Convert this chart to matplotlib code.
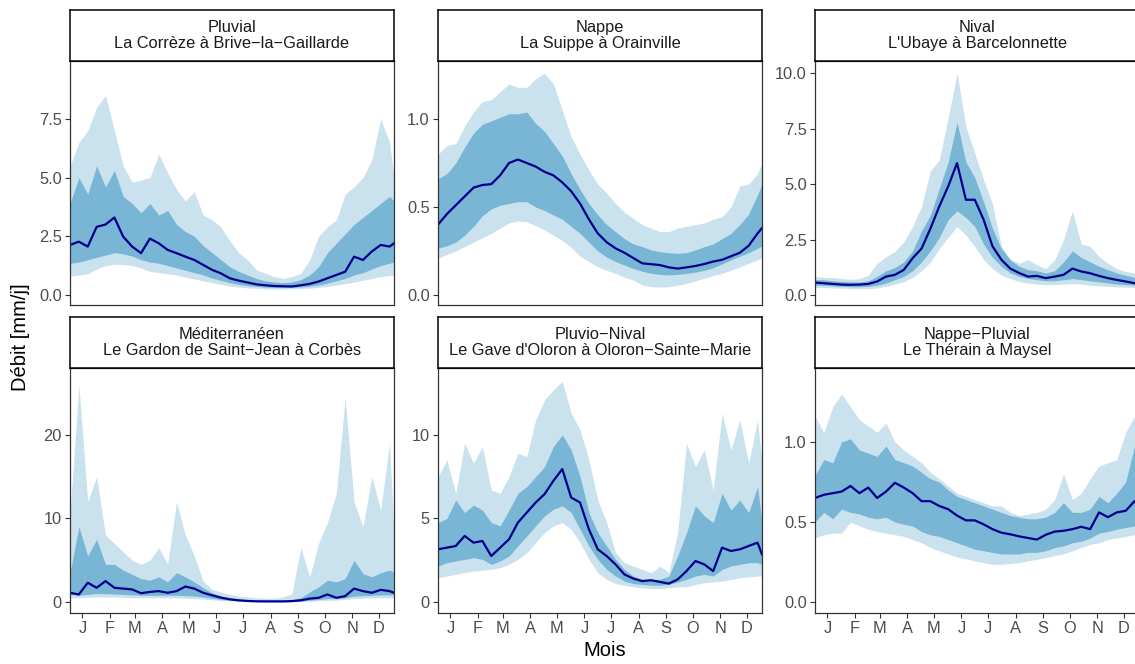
import numpy as np
import matplotlib
matplotlib.use("Agg")
import matplotlib.pyplot as plt

plt.rcParams["font.family"] = ["Liberation Sans", "DejaVu Sans"]

# day of year (every 10 days + last day)
days = [0, 10, 20, 30, 40, 50, 60, 70, 80, 90,
        100, 110, 120, 130, 140, 150, 160, 170, 180, 190,
        200, 210, 220, 230, 240, 250, 260, 270, 280, 290,
        300, 310, 320, 330, 340, 350, 360, 365]

month_ticks = [14, 45, 73, 104, 134, 165, 195, 226, 257, 287, 318, 348]
month_labels = ["J", "F", "M", "A", "M", "J", "J", "A", "S", "O", "N", "D"]

titles = ["Pluvial\nLa Corrèze à Brive\u2212la\u2212Gaillarde",
          "Nappe\nLa Suippe à Orainville",
          "Nival\nL'Ubaye à Barcelonnette",
          "Méditerranéen\nLe Gardon de Saint\u2212Jean à Corbès",
          "Pluvio\u2212Nival\nLe Gave d'Oloron à Oloron\u2212Sainte\u2212Marie",
          "Nappe\u2212Pluvial\nLe Thérain à Maysel"]

# Pluvial
pluvial_q05 = [0.8, 0.85, 0.9, 1.1, 1.25, 1.3, 1.3, 1.25, 1.15, 1.0, 0.95, 0.9, 0.85, 0.75, 0.68, 0.6, 0.52, 0.45, 0.38, 0.33,
               0.3, 0.28, 0.26, 0.25, 0.25, 0.26, 0.27, 0.29, 0.32, 0.36, 0.42, 0.48, 0.55, 0.62, 0.7, 0.78, 0.82, 0.85]
pluvial_q25 = [1.35, 1.4, 1.5, 1.6, 1.7, 1.8, 1.75, 1.65, 1.5, 1.4, 1.35, 1.25, 1.15, 1.05, 0.95, 0.85, 0.72, 0.62, 0.52, 0.45,
               0.4, 0.36, 0.33, 0.32, 0.31, 0.32, 0.34, 0.37, 0.42, 0.5, 0.6, 0.7, 0.85, 0.95, 1.1, 1.25, 1.35, 1.4]
pluvial_med = [2.13, 2.27, 2.06, 2.9, 3.0, 3.3, 2.48, 2.06, 1.78, 2.4, 2.2, 1.92, 1.78, 1.63, 1.49, 1.28, 1.07, 0.92, 0.71, 0.61,
               0.53, 0.45, 0.41, 0.38, 0.37, 0.36, 0.41, 0.47, 0.57, 0.71, 0.85, 0.99, 1.63, 1.49, 1.85, 2.13, 2.06, 2.2]
pluvial_q75 = [3.9, 5.0, 4.3, 5.5, 4.6, 5.3, 4.2, 3.9, 3.5, 3.9, 3.4, 3.6, 3.0, 2.7, 2.5, 2.1, 1.8, 1.5, 1.2, 1.0,
               0.85, 0.7, 0.6, 0.55, 0.52, 0.55, 0.65, 0.85, 1.2, 1.8, 2.2, 2.6, 3.0, 3.3, 3.6, 3.9, 4.2, 4.0]
pluvial_q95 = [5.5, 6.5, 7.0, 8.0, 8.5, 7.0, 5.5, 4.8, 4.9, 5.0, 6.0, 5.2, 4.5, 4.0, 4.4, 3.4, 3.2, 2.9, 2.3, 1.8,
               1.5, 1.07, 0.92, 0.78, 0.71, 0.78, 0.92, 1.5, 2.5, 2.9, 3.2, 4.3, 4.6, 5.0, 5.75, 7.5, 6.5, 5.0]

# Nappe
nappe_q05 = [0.21, 0.23, 0.25, 0.275, 0.3, 0.325, 0.35, 0.38, 0.41, 0.42, 0.415, 0.395, 0.37, 0.34, 0.31, 0.27, 0.22, 0.19, 0.16, 0.14,
             0.123, 0.1, 0.085, 0.057, 0.047, 0.045, 0.047, 0.055, 0.066, 0.08, 0.095, 0.11, 0.123, 0.14, 0.16, 0.18, 0.2, 0.21]
nappe_q25 = [0.265, 0.28, 0.30, 0.34, 0.39, 0.45, 0.49, 0.51, 0.52, 0.53, 0.53, 0.5, 0.48, 0.455, 0.43, 0.39, 0.35, 0.3, 0.25, 0.215,
             0.19, 0.17, 0.15, 0.135, 0.123, 0.117, 0.114, 0.117, 0.123, 0.13, 0.14, 0.155, 0.176, 0.2, 0.22, 0.24, 0.265, 0.28]
nappe_med = [0.40, 0.46, 0.51, 0.56, 0.61, 0.625, 0.63, 0.68, 0.75, 0.77, 0.75, 0.73, 0.70, 0.68, 0.64, 0.59, 0.52, 0.43, 0.35, 0.30,
             0.265, 0.24, 0.21, 0.18, 0.175, 0.17, 0.157, 0.15, 0.157, 0.165, 0.176, 0.19, 0.2, 0.22, 0.24, 0.28, 0.35, 0.38]
nappe_q75 = [0.66, 0.69, 0.75, 0.84, 0.92, 0.97, 0.99, 1.01, 1.03, 1.03, 1.04, 0.975, 0.93, 0.86, 0.79, 0.69, 0.6, 0.52, 0.455, 0.4,
             0.36, 0.32, 0.29, 0.275, 0.256, 0.246, 0.24, 0.237, 0.24, 0.256, 0.275, 0.29, 0.32, 0.35, 0.4, 0.46, 0.57, 0.63]
nappe_q95 = [0.8, 0.85, 0.86, 0.96, 1.04, 1.1, 1.11, 1.155, 1.2, 1.18, 1.18, 1.23, 1.26, 1.2, 1.05, 0.9, 0.8, 0.71, 0.63, 0.58,
             0.52, 0.47, 0.435, 0.40, 0.38, 0.36, 0.36, 0.38, 0.39, 0.40, 0.41, 0.43, 0.445, 0.5, 0.62, 0.63, 0.69, 0.75]

# Nival
nival_q05 = [0.35, 0.35, 0.33, 0.32, 0.3, 0.3, 0.3, 0.33, 0.4, 0.5, 0.6, 0.8, 1.1, 1.5, 2.1, 2.6, 3.1, 2.7, 2.2, 1.6,
             1.2, 0.9, 0.75, 0.62, 0.55, 0.5, 0.48, 0.48, 0.5, 0.52, 0.5, 0.45, 0.42, 0.4, 0.38, 0.36, 0.35, 0.35]
nival_q25 = [0.45, 0.45, 0.42, 0.4, 0.38, 0.38, 0.4, 0.45, 0.55, 0.7, 0.85, 1.1, 1.5, 2.0, 2.6, 3.4, 3.8, 3.5, 3.1, 2.3,
             1.7, 1.3, 1.0, 0.85, 0.75, 0.7, 0.65, 0.65, 0.7, 0.75, 0.7, 0.65, 0.6, 0.55, 0.5, 0.48, 0.46, 0.45]
nival_med = [0.57, 0.54, 0.51, 0.48, 0.47, 0.48, 0.51, 0.62, 0.84, 0.92, 1.14, 1.67, 2.1, 3.0, 4.0, 4.9, 5.95, 4.3, 4.3, 3.4,
             2.2, 1.6, 1.2, 1.0, 0.84, 0.87, 0.77, 0.84, 0.92, 1.2, 1.07, 0.99, 0.87, 0.77, 0.69, 0.62, 0.54, 0.54]
nival_q75 = [0.7, 0.7, 0.65, 0.62, 0.6, 0.6, 0.65, 0.85, 1.1, 1.25, 1.5, 2.0, 2.9, 3.6, 4.8, 6.0, 7.8, 6.0, 5.3, 4.2,
             3.0, 2.1, 1.6, 1.3, 1.15, 1.1, 1.0, 1.1, 1.5, 2.0, 1.7, 1.5, 1.3, 1.15, 1.0, 0.9, 0.8, 0.75]
nival_q95 = [0.85, 0.8, 0.8, 0.75, 0.72, 0.75, 0.9, 1.44, 1.74, 1.97, 2.4, 3.1, 4.0, 5.6, 6.1, 8.0, 10.0, 7.6, 6.4, 5.2,
             4.1, 2.2, 1.6, 1.44, 1.6, 1.37, 1.2, 1.6, 2.5, 3.8, 2.3, 2.2, 1.74, 1.44, 1.2, 1.07, 1.0, 0.95]

# Méditerranéen
medit_q05 = [0.5, 0.5, 0.55, 0.6, 0.6, 0.6, 0.55, 0.5, 0.5, 0.5, 0.5, 0.5, 0.5, 0.45, 0.4, 0.35, 0.25, 0.18, 0.12, 0.08,
             0.05, 0.03, 0.03, 0.03, 0.03, 0.04, 0.06, 0.1, 0.15, 0.2, 0.22, 0.3, 0.4, 0.45, 0.5, 0.5, 0.5, 0.5]
medit_q25 = [0.9, 0.8, 0.9, 1.0, 1.0, 0.95, 0.9, 0.85, 0.8, 0.8, 0.8, 0.8, 0.8, 0.75, 0.7, 0.6, 0.45, 0.3, 0.2, 0.12,
             0.08, 0.05, 0.05, 0.05, 0.05, 0.06, 0.1, 0.2, 0.3, 0.4, 0.4, 0.5, 0.7, 0.75, 0.8, 0.85, 0.85, 0.85]
medit_med = [1.1, 0.9, 2.3, 1.7, 2.5, 1.7, 1.6, 1.5, 1.05, 1.2, 1.3, 1.1, 1.3, 1.85, 1.6, 1.1, 0.8, 0.52, 0.32, 0.2,
             0.12, 0.08, 0.07, 0.07, 0.07, 0.1, 0.2, 0.4, 0.5, 0.9, 0.5, 0.7, 1.6, 1.3, 1.1, 1.45, 1.3, 1.1]
medit_q75 = [3.5, 9.0, 5.5, 7.5, 4.5, 4.5, 3.8, 3.3, 2.8, 2.6, 3.0, 2.4, 3.5, 3.0, 2.4, 1.7, 1.1, 0.7, 0.45, 0.3,
             0.2, 0.15, 0.12, 0.12, 0.15, 0.3, 0.5, 1.2, 1.8, 2.6, 2.4, 2.8, 5.0, 3.4, 3.0, 3.5, 3.8, 3.6]
medit_q95 = [10.5, 26.0, 12.0, 15.0, 8.0, 7.0, 6.0, 5.0, 4.5, 5.0, 6.5, 4.5, 12.0, 8.0, 5.5, 2.5, 1.5, 1.2, 0.9, 0.7,
             0.6, 0.5, 0.45, 0.45, 0.6, 1.0, 6.5, 3.0, 7.0, 9.5, 13.0, 24.5, 12.0, 9.0, 15.0, 11.0, 19.0, 8.0]

# Pluvio-Nival
pnival_q05 = [1.45, 1.55, 1.65, 1.75, 1.85, 1.9, 1.95, 2.05, 2.25, 2.55, 2.95, 3.55, 4.15, 4.55, 4.75, 4.35, 3.55, 2.55, 1.75, 1.35,
              1.1, 1.0, 0.9, 0.85, 0.8, 0.8, 0.85, 0.9, 0.92, 1.05, 1.15, 1.2, 1.25, 1.35, 1.45, 1.5, 1.55, 1.55]
pnival_q25 = [2.15, 2.35, 2.45, 2.55, 2.65, 2.55, 2.25, 2.45, 2.75, 3.35, 3.95, 4.55, 5.15, 5.55, 5.75, 5.35, 4.35, 3.35, 2.55, 1.95,
              1.55, 1.25, 1.1, 1.05, 1.0, 1.0, 1.05, 1.2, 1.35, 1.55, 1.65, 1.55, 1.95, 2.15, 2.25, 2.35, 2.35, 2.25]
pnival_med = [3.15, 3.25, 3.35, 3.95, 3.55, 3.65, 2.75, 3.25, 3.75, 4.75, 5.35, 5.95, 6.45, 7.25, 7.95, 6.25, 5.95, 4.35, 3.15, 2.75,
              2.25, 1.65, 1.4, 1.25, 1.3, 1.2, 1.1, 1.35, 1.85, 2.45, 2.25, 1.85, 3.25, 3.05, 3.15, 3.35, 3.55, 2.85]
pnival_q75 = [4.75, 5.0, 6.1, 5.35, 5.8, 5.5, 4.75, 4.55, 5.5, 6.5, 6.9, 7.5, 8.1, 9.3, 10.0, 9.1, 7.5, 5.35, 4.15, 3.35,
              2.55, 1.95, 1.55, 1.35, 1.35, 1.35, 1.55, 2.75, 4.15, 5.75, 5.15, 4.75, 6.5, 5.5, 6.1, 5.35, 6.9, 4.75]
pnival_q95 = [7.5, 8.5, 6.5, 9.5, 8.3, 9.3, 6.7, 6.5, 7.5, 8.9, 8.7, 10.9, 12.1, 12.7, 13.2, 11.3, 10.3, 8.5, 6.1, 4.75,
              2.95, 2.35, 2.15, 1.95, 1.75, 2.15, 1.75, 4.15, 9.5, 8.1, 9.1, 6.7, 11.3, 9.1, 10.9, 8.3, 10.9, 8.3]

# Nappe-Pluvial
npluv_q05 = [0.40, 0.42, 0.43, 0.43, 0.5, 0.475, 0.455, 0.44, 0.43, 0.42, 0.41, 0.39, 0.37, 0.34, 0.32, 0.30, 0.28, 0.27, 0.256, 0.246,
             0.235, 0.235, 0.24, 0.246, 0.256, 0.267, 0.277, 0.29, 0.30, 0.32, 0.34, 0.36, 0.37, 0.39, 0.40, 0.41, 0.42, 0.42]
npluv_q25 = [0.5, 0.56, 0.52, 0.58, 0.56, 0.55, 0.53, 0.52, 0.53, 0.5, 0.485, 0.475, 0.44, 0.42, 0.41, 0.39, 0.37, 0.35, 0.33, 0.32,
             0.31, 0.30, 0.30, 0.30, 0.31, 0.31, 0.32, 0.34, 0.35, 0.37, 0.38, 0.40, 0.43, 0.44, 0.455, 0.465, 0.475, 0.48]
npluv_med = [0.65, 0.67, 0.68, 0.69, 0.725, 0.68, 0.715, 0.65, 0.69, 0.745, 0.715, 0.68, 0.63, 0.63, 0.60, 0.58, 0.54, 0.51, 0.51, 0.485,
             0.455, 0.433, 0.423, 0.41, 0.40, 0.39, 0.42, 0.44, 0.445, 0.455, 0.47, 0.455, 0.56, 0.53, 0.56, 0.57, 0.63, 0.6]
npluv_q75 = [0.79, 0.89, 0.87, 1.0, 1.02, 0.95, 0.93, 0.91, 0.975, 0.89, 0.87, 0.85, 0.81, 0.77, 0.75, 0.7, 0.66, 0.64, 0.62, 0.6,
             0.58, 0.56, 0.54, 0.53, 0.52, 0.52, 0.53, 0.56, 0.62, 0.56, 0.56, 0.58, 0.66, 0.62, 0.68, 0.75, 0.975, 0.8]
npluv_q95 = [1.16, 1.06, 1.22, 1.3, 1.22, 1.14, 1.1, 1.06, 1.12, 1.0, 0.95, 0.91, 0.87, 0.81, 0.77, 0.725, 0.68, 0.66, 0.64, 0.62,
             0.6, 0.6, 0.56, 0.54, 0.55, 0.56, 0.58, 0.64, 0.8, 0.64, 0.68, 0.77, 0.85, 0.87, 0.89, 1.06, 1.16, 1.16]

panels = [
    (pluvial_q05, pluvial_q25, pluvial_med, pluvial_q75, pluvial_q95),
    (nappe_q05, nappe_q25, nappe_med, nappe_q75, nappe_q95),
    (nival_q05, nival_q25, nival_med, nival_q75, nival_q95),
    (medit_q05, medit_q25, medit_med, medit_q75, medit_q95),
    (pnival_q05, pnival_q25, pnival_med, pnival_q75, pnival_q95),
    (npluv_q05, npluv_q25, npluv_med, npluv_q75, npluv_q95),
]

yticks = [[0, 2.5, 5.0, 7.5], [0.0, 0.5, 1.0], [0.0, 2.5, 5.0, 7.5, 10.0],
          [0, 10, 20], [0, 5, 10], [0.0, 0.5, 1.0]]
ytick_fmt = ["{:.1f}", "{:.1f}", "{:.1f}", "{:.0f}", "{:.0f}", "{:.1f}"]
ylims = [(-0.43, 9.97), (-0.057, 1.33), (-0.44, 10.55),
         (-1.32, 28.0), (-0.66, 14.0), (-0.069, 1.4625)]

light = "#cae2ee"
mid = "#79b5d5"
dark = "#00008b"

W, H = 1135, 664
fig = plt.figure(figsize=(W / 100, H / 100), dpi=100)

col_x = [(70, 394), (438, 762), (815, 1139)]
row_y = [(10, 61, 305), (317, 368, 613)]  # strip top, plot top, plot bottom

for i, (q05, q25, med, q75, q95) in enumerate(panels):
    r, c = divmod(i, 3)
    x0, x1 = col_x[c]
    st, pt, pb = row_y[r]

    ax = fig.add_axes([x0 / W, 1 - pb / H, (x1 - x0) / W, (pb - pt) / H])
    ax.fill_between(days, q05, q95, color=light, lw=0)
    ax.fill_between(days, q25, q75, color=mid, lw=0)
    ax.plot(days, med, color=dark, lw=1.6)
    ax.set_xlim(0, 365)
    ax.set_ylim(*ylims[i])
    ax.set_yticks(yticks[i])
    ax.set_yticklabels([ytick_fmt[i].format(v) for v in yticks[i]])
    ax.set_xticks(month_ticks)
    if r == 1:
        ax.set_xticklabels(month_labels)
    else:
        ax.set_xticklabels([])
        ax.tick_params(axis="x", length=0)
    ax.tick_params(direction="out", width=0.8, color="#333333",
                   labelcolor="#4d4d4d", labelsize=11.8, pad=2.5)
    ax.tick_params(axis="y", length=3.5)
    if r == 1:
        ax.tick_params(axis="x", length=3.5)
    for s in ax.spines.values():
        s.set_color("#333333")
        s.set_linewidth(0.9)

    sax = fig.add_axes([x0 / W, 1 - pt / H, (x1 - x0) / W, (pt - st) / H])
    sax.set_xticks([])
    sax.set_yticks([])
    for s in sax.spines.values():
        s.set_color("black")
        s.set_linewidth(1.1)
    sax.text(0.5, 0.5, titles[i], ha="center", va="center", fontsize=11.8,
             color="#1a1a1a", linespacing=1.15, transform=sax.transAxes)

fig.text(20 / W, 1 - 337 / H, "Débit [mm/j]", rotation=90, ha="center",
         va="center", fontsize=14.5)
fig.text(605 / W, 1 - 651 / H, "Mois", ha="center", va="center", fontsize=14.5)

fig.savefig("out.png", dpi=100)
